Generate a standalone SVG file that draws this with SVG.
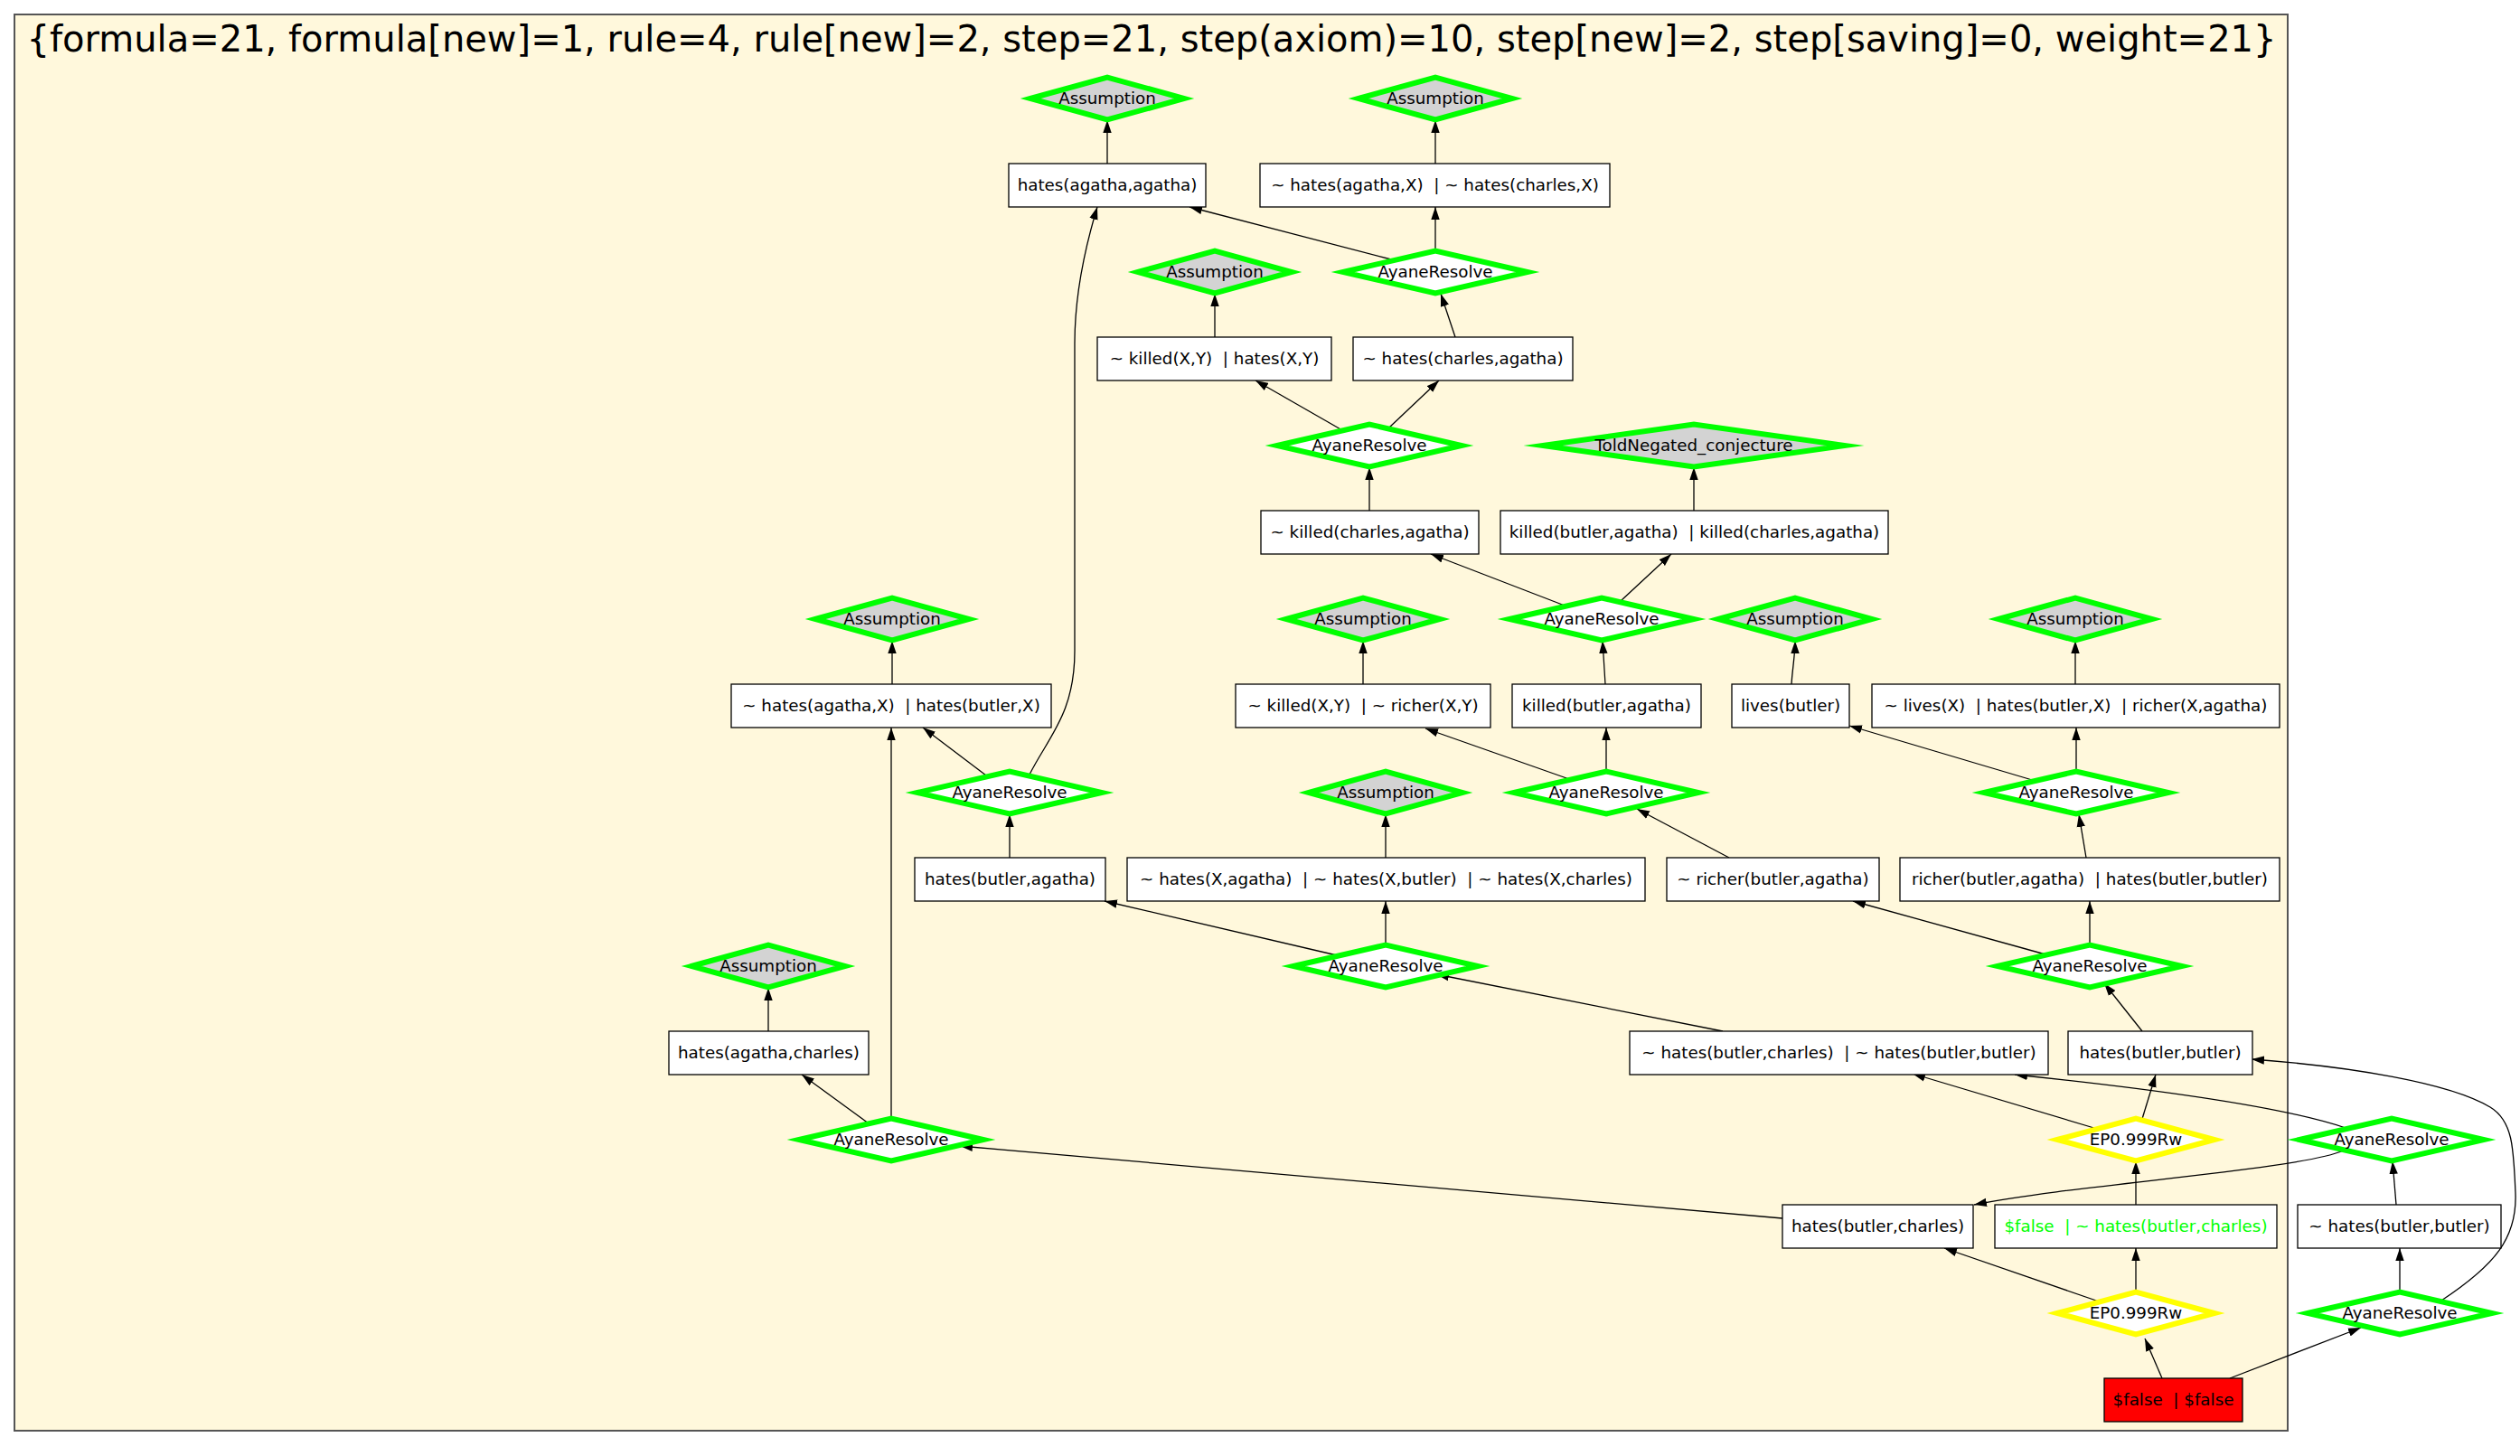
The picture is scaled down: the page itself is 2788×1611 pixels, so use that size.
<svg xmlns="http://www.w3.org/2000/svg" xmlns:xlink="http://www.w3.org/1999/xlink" width="2788" height="1611" viewBox="0 0 2788 1611">
<style>
text{font-family:"DejaVu Sans","Liberation Sans",sans-serif;font-size:18.3px;text-anchor:middle;fill:#000}
.title{font-size:40px}
.box{fill:#fff;stroke:#000;stroke-width:1.3}
.red{fill:#ff0000}
.grn{fill:#00ff00}
.dg{stroke-width:6;stroke-linejoin:miter;stroke-miterlimit:10}
.as{fill:#d3d3d3;stroke:#00ff00}
.ar{fill:#fff;stroke:#00ff00}
.ep{fill:#fff;stroke:#ffff00}
.edges path{fill:none;stroke:#000;stroke-width:1.3;marker-end:url(#ah)}
</style>
<defs>
<marker id="ah" markerWidth="14" markerHeight="10" refX="14" refY="5" orient="auto" markerUnits="userSpaceOnUse"><path d="M0,0.3 L14,5 L0,9.7 z" fill="#000"/></marker>
<polygon id="dA" points="-85,0 0,-23.5 85,0 0,23.5"/>
<polygon id="dR" points="-102,0 0,-23.5 102,0 0,23.5"/>
<polygon id="dT" points="-167,0 0,-23.5 167,0 0,23.5"/>
<polygon id="dE" points="-87,0 0,-23.5 87,0 0,23.5"/>
</defs>
<rect x="0" y="0" width="2788" height="1611" fill="#fff"/>
<rect x="16" y="16" width="2515" height="1567" fill="#fff8dc" stroke="#555" stroke-width="2"/>
<text class="title" x="1274" y="57">{formula=21, formula[new]=1, rule=4, rule[new]=2, step=21, step(axiom)=10, step[new]=2, step[saving]=0, weight=21}</text>

<g class="edges">
<path d="M1225,181 L1225,133"/>
<path d="M1588,181 L1588,133"/>
<path d="M1588,277 L1588,229"/>
<path d="M1539,287 L1316,229"/>
<path d="M1344,373 L1344,325"/>
<path d="M1610,373 L1594,325"/>
<path d="M1485,476 L1389,421"/>
<path d="M1537,473 L1592,421"/>
<path d="M1515,565 L1515,517"/>
<path d="M1874,565 L1874,517"/>
<path d="M1731,670 L1583,613"/>
<path d="M1793,665 L1849,613"/>
<path d="M987,757 L987,709"/>
<path d="M1508,757 L1508,709"/>
<path d="M1776,757 L1773,709"/>
<path d="M1982,757 C1983,740 1986,725 1986,709"/>
<path d="M2296,757 L2296,709"/>
<path d="M1091,858 L1021,805"/>
<path d="M1139,857 C1160,815 1189,790 1189,720 L1189,380 C1189,320 1204,262 1214,229"/>
<path d="M1117,949 L1117,901"/>
<path d="M1533,949 L1533,901"/>
<path d="M1913,949 L1811,895"/>
<path d="M1736,862 L1577,806"/>
<path d="M1777,853 L1777,805"/>
<path d="M2255,865 L2046,803"/>
<path d="M2297,853 L2297,805"/>
<path d="M2308,949 L2300,901"/>
<path d="M1479,1057 L1222,997"/>
<path d="M1533,1045 L1533,997"/>
<path d="M1906,1141 L1589,1078"/>
<path d="M2263,1056 L2050,997"/>
<path d="M2312,1045 L2312,997"/>
<path d="M2370,1141 L2328,1088"/>
<path d="M850,1141 L850,1093"/>
<path d="M961,1243 L887,1189"/>
<path d="M986,1237 L986,805"/>
<path d="M1972,1348 L1062,1268"/>
<path d="M2320,1249 L2116,1188"/>
<path d="M2370,1238 L2385,1189"/>
<path d="M2595,1248 C2560,1236 2480,1215 2229,1189"/>
<path d="M2593,1273 C2540,1295 2300,1310 2184,1333"/>
<path d="M2363,1333 L2363,1285"/>
<path d="M2651,1333 L2647,1285"/>
<path d="M2322,1440 L2151,1381"/>
<path d="M2363,1429 L2363,1381"/>
<path d="M2655,1429 L2655,1381"/>
<path d="M2701,1439 C2760,1400 2785,1370 2783,1320 C2781,1270 2780,1240 2755,1225 C2710,1198 2600,1180 2491,1172"/>
<path d="M2392,1525 L2373,1481"/>
<path d="M2467,1525 L2612,1469"/>
</g>

<g id="r1"><rect class="box" x="1116" y="181" width="218" height="48"/><text x="1225" y="211" xml:space="preserve">hates(agatha,agatha)</text></g>
<g id="r2"><rect class="box" x="1394" y="181" width="387" height="48"/><text x="1587.5" y="211" xml:space="preserve">~ hates(agatha,X)  | ~ hates(charles,X)</text></g>
<g id="r3"><rect class="box" x="1214" y="373" width="259" height="48"/><text x="1343.5" y="403" xml:space="preserve">~ killed(X,Y)  | hates(X,Y)</text></g>
<g id="r4"><rect class="box" x="1497" y="373" width="243" height="48"/><text x="1618.5" y="403" xml:space="preserve">~ hates(charles,agatha)</text></g>
<g id="r5"><rect class="box" x="1395" y="565" width="241" height="48"/><text x="1515.5" y="595" xml:space="preserve">~ killed(charles,agatha)</text></g>
<g id="r6"><rect class="box" x="1660" y="565" width="429" height="48"/><text x="1874.5" y="595" xml:space="preserve">killed(butler,agatha)  | killed(charles,agatha)</text></g>
<g id="r7"><rect class="box" x="809" y="757" width="354" height="48"/><text x="986" y="787" xml:space="preserve">~ hates(agatha,X)  | hates(butler,X)</text></g>
<g id="r8"><rect class="box" x="1367" y="757" width="282" height="48"/><text x="1508" y="787" xml:space="preserve">~ killed(X,Y)  | ~ richer(X,Y)</text></g>
<g id="r9"><rect class="box" x="1673" y="757" width="209" height="48"/><text x="1777.5" y="787" xml:space="preserve">killed(butler,agatha)</text></g>
<g id="r10"><rect class="box" x="1916" y="757" width="130" height="48"/><text x="1981" y="787" xml:space="preserve">lives(butler)</text></g>
<g id="r11"><rect class="box" x="2071" y="757" width="451" height="48"/><text x="2296.5" y="787" xml:space="preserve">~ lives(X)  | hates(butler,X)  | richer(X,agatha)</text></g>
<g id="r12"><rect class="box" x="1012" y="949" width="211" height="48"/><text x="1117.5" y="979" xml:space="preserve">hates(butler,agatha)</text></g>
<g id="r13"><rect class="box" x="1247" y="949" width="573" height="48"/><text x="1533.5" y="979" xml:space="preserve">~ hates(X,agatha)  | ~ hates(X,butler)  | ~ hates(X,charles)</text></g>
<g id="r14"><rect class="box" x="1844" y="949" width="235" height="48"/><text x="1961.5" y="979" xml:space="preserve">~ richer(butler,agatha)</text></g>
<g id="r15"><rect class="box" x="2102" y="949" width="420" height="48"/><text x="2312" y="979" xml:space="preserve">richer(butler,agatha)  | hates(butler,butler)</text></g>
<g id="r16"><rect class="box" x="740" y="1141" width="221" height="48"/><text x="850.5" y="1171" xml:space="preserve">hates(agatha,charles)</text></g>
<g id="r17"><rect class="box" x="1803" y="1141" width="463" height="48"/><text x="2034.5" y="1171" xml:space="preserve">~ hates(butler,charles)  | ~ hates(butler,butler)</text></g>
<g id="r18"><rect class="box" x="2288" y="1141" width="204" height="48"/><text x="2390" y="1171" xml:space="preserve">hates(butler,butler)</text></g>
<g id="r19"><rect class="box" x="1972" y="1333" width="211" height="48"/><text x="2077.5" y="1363" xml:space="preserve">hates(butler,charles)</text></g>
<g id="r20"><rect class="box" x="2207" y="1333" width="312" height="48"/><text class="grn" x="2363" y="1363" xml:space="preserve">$false  | ~ hates(butler,charles)</text></g>
<g id="r21"><rect class="box" x="2542" y="1333" width="225" height="48"/><text x="2654.5" y="1363" xml:space="preserve">~ hates(butler,butler)</text></g>
<g id="r22"><rect class="box red" x="2328" y="1525" width="153" height="48"/><text x="2404.5" y="1555" xml:space="preserve">$false  | $false</text></g>

<g id="d1"><use xlink:href="#dA" class="dg as" x="1225" y="109"/><text x="1225" y="115">Assumption</text></g>
<g id="d2"><use xlink:href="#dA" class="dg as" x="1588" y="109"/><text x="1588" y="115">Assumption</text></g>
<g id="d3"><use xlink:href="#dA" class="dg as" x="1344" y="301"/><text x="1344" y="307">Assumption</text></g>
<g id="d4"><use xlink:href="#dR" class="dg ar" x="1588" y="301"/><text x="1588" y="307">AyaneResolve</text></g>
<g id="d5"><use xlink:href="#dR" class="dg ar" x="1515" y="493"/><text x="1515" y="499">AyaneResolve</text></g>
<g id="d6"><use xlink:href="#dT" class="dg as" x="1874" y="493"/><text x="1874" y="499">ToldNegated_conjecture</text></g>
<g id="d7"><use xlink:href="#dA" class="dg as" x="987" y="685"/><text x="987" y="691">Assumption</text></g>
<g id="d8"><use xlink:href="#dA" class="dg as" x="1508" y="685"/><text x="1508" y="691">Assumption</text></g>
<g id="d9"><use xlink:href="#dR" class="dg ar" x="1772" y="685"/><text x="1772" y="691">AyaneResolve</text></g>
<g id="d10"><use xlink:href="#dA" class="dg as" x="1986" y="685"/><text x="1986" y="691">Assumption</text></g>
<g id="d11"><use xlink:href="#dA" class="dg as" x="2296" y="685"/><text x="2296" y="691">Assumption</text></g>
<g id="d12"><use xlink:href="#dR" class="dg ar" x="1117" y="877"/><text x="1117" y="883">AyaneResolve</text></g>
<g id="d13"><use xlink:href="#dA" class="dg as" x="1533" y="877"/><text x="1533" y="883">Assumption</text></g>
<g id="d14"><use xlink:href="#dR" class="dg ar" x="1777" y="877"/><text x="1777" y="883">AyaneResolve</text></g>
<g id="d15"><use xlink:href="#dR" class="dg ar" x="2297" y="877"/><text x="2297" y="883">AyaneResolve</text></g>
<g id="d16"><use xlink:href="#dA" class="dg as" x="850" y="1069"/><text x="850" y="1075">Assumption</text></g>
<g id="d17"><use xlink:href="#dR" class="dg ar" x="1533" y="1069"/><text x="1533" y="1075">AyaneResolve</text></g>
<g id="d18"><use xlink:href="#dR" class="dg ar" x="2312" y="1069"/><text x="2312" y="1075">AyaneResolve</text></g>
<g id="d19"><use xlink:href="#dR" class="dg ar" x="986" y="1261"/><text x="986" y="1267">AyaneResolve</text></g>
<g id="d20"><use xlink:href="#dE" class="dg ep" x="2363" y="1261"/><text x="2363" y="1267">EP0.999Rw</text></g>
<g id="d21"><use xlink:href="#dR" class="dg ar" x="2646" y="1261"/><text x="2646" y="1267">AyaneResolve</text></g>
<g id="d22"><use xlink:href="#dE" class="dg ep" x="2363" y="1453"/><text x="2363" y="1459">EP0.999Rw</text></g>
<g id="d23"><use xlink:href="#dR" class="dg ar" x="2655" y="1453"/><text x="2655" y="1459">AyaneResolve</text></g>
</svg>
